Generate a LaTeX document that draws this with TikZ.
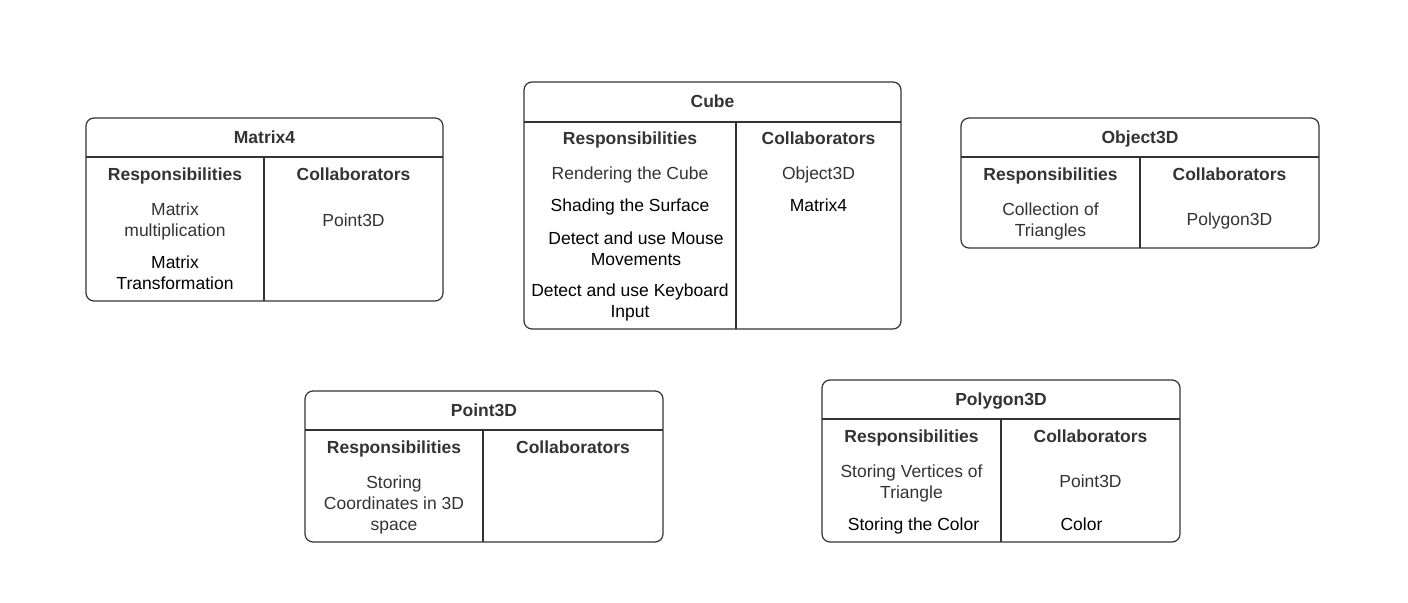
\documentclass[tikz,border=0pt]{standalone}
\usepackage{fontspec}
\setmainfont{Liberation Sans}
\begin{document}
\begin{tikzpicture}[x=0.5pt,y=-0.5pt,
  card/.style={draw=black!80, line width=0.6pt, rounded corners=4pt},
  sep/.style={draw=black!80, line width=0.6pt},
  one/.style={text height=0.72em, text depth=0.21em},
  ttl/.style={font=\fontsize{8.75}{10.5}\selectfont\bfseries, text=black!80, inner sep=0pt, one, yshift=-0.5pt},
  hd/.style={font=\fontsize{8.75}{10.5}\selectfont\bfseries, text=black!80, inner sep=0pt, one, yshift=-0.5pt},
  it/.style={font=\fontsize{8.75}{10.5}\selectfont, text=black!80, align=center, inner sep=0pt, yshift=-0.5pt},
  itb/.style={it, text=black}]
\useasboundingbox (0,0) rectangle (1408,603);
% Matrix4
\draw[card] (86,118) rectangle (443,301);
\draw[sep] (86,157) -- (443,157) (264,157) -- (264,301);
\node[ttl] (m4t) at (264.5,137) {Matrix4};
\node[hd] (m4r) at (175,174) {Responsibilities};
\node[hd] (m4c) at (353.5,174) {Collaborators};
\node[it] (m4r1) at (175,220.5) {Matrix\\multiplication};
\node[itb] (m4r2) at (175,272) {Matrix\\Transformation};
\node[it, one] (m4c1) at (353.5,220) {Point3D};
% Cube
\draw[card] (524,82) rectangle (901,329);
\draw[sep] (524,122) -- (901,122) (736,122) -- (736,329);
\node[ttl] (cut) at (712.5,101) {Cube};
\node[hd] (cur) at (630,138) {Responsibilities};
\node[hd] (cuc) at (818.5,138) {Collaborators};
\node[it, one] (cur1) at (630,173) {Rendering the Cube};
\node[itb, one] (cur2) at (630,205) {Shading the Surface};
\node[itb] (cur3) at (636,247.5) {Detect and use Mouse\\Movements};
\node[itb] (cur4) at (630,301) {Detect and use Keyboard\\Input};
\node[it, one] (cuc1) at (818.5,173) {Object3D};
\node[itb, one] (cuc2) at (818.5,205) {Matrix4};
% Object3D
\draw[card] (961,118) rectangle (1319,248);
\draw[sep] (961,157) -- (1319,157) (1140,157) -- (1140,248);
\node[ttl] (o3t) at (1140,137) {Object3D};
\node[hd] (o3r) at (1050.5,174) {Responsibilities};
\node[hd] (o3c) at (1229.5,174) {Collaborators};
\node[it] (o3r1) at (1050.5,220.5) {Collection of\\Triangles};
\node[it, one] (o3c1) at (1229.5,219.5) {Polygon3D};
% Point3D
\draw[card] (305,391) rectangle (663,542);
\draw[sep] (305,430) -- (663,430) (483,430) -- (483,542);
\node[ttl] (p3t) at (484,410) {Point3D};
\node[hd] (p3r) at (394,447) {Responsibilities};
\node[hd] (p3c) at (573,447) {Collaborators};
\node[it] (p3r1) at (394,504) {Storing\\Coordinates in 3D\\space};
% Polygon3D
\draw[card] (822,380) rectangle (1180,542);
\draw[sep] (822,419) -- (1180,419) (1001,419) -- (1001,542);
\node[ttl] (pgt) at (1001,399) {Polygon3D};
\node[hd] (pgr) at (911.5,436) {Responsibilities};
\node[hd] (pgc) at (1090.5,436) {Collaborators};
\node[it] (pgr1) at (911.5,482.5) {Storing Vertices of\\Triangle};
\node[itb, one] (pgr2) at (913.5,524) {Storing the Color};
\node[it, one] (pgc1) at (1090.5,481.5) {Point3D};
\node[itb, one] (pgc2) at (1081.5,524) {Color};
\end{tikzpicture}
\end{document}
